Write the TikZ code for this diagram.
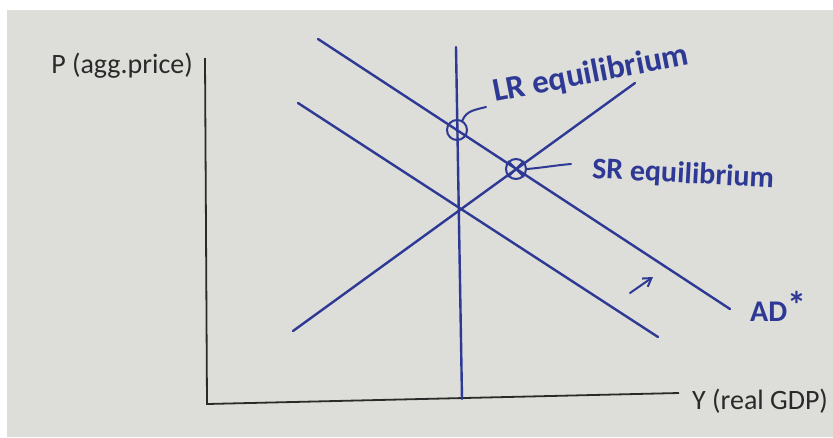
\documentclass[tikz,border=0pt]{standalone}
\usepackage{fontspec}
\setmainfont{Carlito}
\newfontfamily\handfont{Carlito}
\usetikzlibrary{arrows.meta, positioning, calc}
\definecolor{paper}{HTML}{DDDDD9}
\definecolor{pen}{HTML}{2D3994}
\definecolor{ink}{HTML}{2A2A2A}

\begin{document}
\begin{tikzpicture}[x=1pt, y=-1pt,
  axis/.style={ink, line width=1.8pt},
  curve/.style={pen, line width=2.4pt, line cap=round},
  eqmark/.style={circle, draw=pen, line width=2pt, minimum size=20pt, inner sep=0pt},
  hand/.style={pen, inner sep=0pt, font=\handfont\bfseries\fontsize{30}{32}\selectfont},
  printed/.style={ink, inner sep=0pt, font=\fontsize{28}{30}\selectfont}]
  \useasboundingbox (0,0) rectangle (833,437);
  \fill[white] (0,0) rectangle (833,437);
  \fill[paper] (7,10) rectangle (833,437);

  % axes
  \coordinate (ytop) at (205,58);
  \coordinate (origin) at (207,404);
  \coordinate (xend) at (679,393);
  \draw[axis] (ytop) -- (origin) -- (xend);
  \node[printed, anchor=east] (plabel) at (193,66) {P (agg.price)};
  \node[printed, anchor=west] (ylabel) at (692,401) {Y (real GDP)};

  % curves
  \coordinate (lrastop) at (456,47);
  \coordinate (lrasbot) at (462,399);
  \coordinate (ada) at (298,103);
  \coordinate (adb) at (658,337);
  \coordinate (adsa) at (318,39);
  \coordinate (adsb) at (730,309);
  \coordinate (srasa) at (293,331);
  \coordinate (srasb) at (635,83);
  \draw[curve] (lrastop) -- (lrasbot);
  \draw[curve] (ada) -- (adb);
  \draw[curve] (adsa) -- (adsb);
  \draw[curve] (srasa) -- (srasb);

  % equilibria
  \node[eqmark] (lr) at (457,130) {};
  \node[eqmark] (sr) at (516,169) {};
  \draw[curve, line width=2pt] (sr.north west) -- (sr.south east);
  \draw[curve, line width=2pt] (sr.south west) -- (sr.north east);
  \coordinate (lrtip) at (486,107);
  \coordinate (srtip) at (571,164);
  \draw[curve, line width=2pt] (lr.60) to[out=70, in=195] (lrtip);
  \draw[curve, line width=2pt] (sr.east) to[out=5, in=185] (srtip);
  \node[hand, anchor=base west, rotate=11, font=\handfont\bfseries\fontsize{33}{35}\selectfont] (lrlabel) at (495,102) {LR equilibrium};
  \node[hand, anchor=west, rotate=-3] (srlabel) at (592,170) {SR equilibrium};

  % shift
  \coordinate (shifta) at (630,293);
  \coordinate (shiftb) at (653,277);
  \draw[curve, line width=2pt, -{Straight Barb[length=8pt, width=10pt]}] (shifta) -- (shiftb);
  \node[hand, anchor=west] (adslabel) at (750,306) {AD\raisebox{3pt}{\fontsize{38}{38}\selectfont*}};
\end{tikzpicture}
\end{document}
